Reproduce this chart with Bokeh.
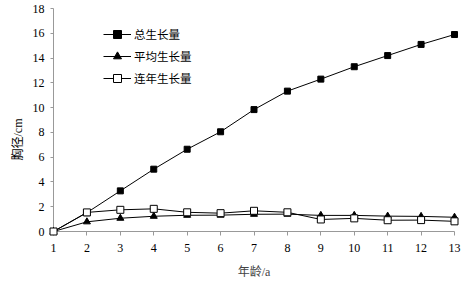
from bokeh.plotting import figure
from bokeh.models import Legend, LegendItem, FixedTicker, Range1d, Title
from bokeh.embed import file_html
from bokeh.resources import INLINE

ages = [1, 2, 3, 4, 5, 6, 7, 8, 9, 10, 11, 12, 13]
total_growth = [0, 1.52, 3.28, 5.03, 6.64, 8.05, 9.84, 11.33, 12.3, 13.3, 14.2, 15.1, 15.9]
mean_growth = [0, 0.78, 1.07, 1.23, 1.31, 1.32, 1.39, 1.40, 1.30, 1.30, 1.24, 1.22, 1.15]
annual_growth = [0, 1.54, 1.75, 1.83, 1.55, 1.48, 1.67, 1.55, 0.97, 1.06, 0.91, 0.92, 0.82]
y_ticks = [0, 2, 4, 6, 8, 10, 12, 14, 16, 18]
legend_labels = ["总生长量", "平均生长量", "连年生长量"]
x_title = "年龄/a"
y_title = "胸径/cm"

SERIF = "'Liberation Serif', 'Noto Sans CJK SC'"
CJK = "'Noto Sans CJK SC'"

p = figure(width=464, height=281, output_backend="svg", toolbar_location=None,
           x_range=Range1d(1, 13), y_range=Range1d(0, 18),
           min_border_left=53, min_border_right=10, min_border_top=8, min_border_bottom=50)
p.outline_line_color = None
p.xgrid.visible = False
p.ygrid.visible = False
p.background_fill_color = "white"
p.border_fill_color = "white"

for ax in (p.xaxis[0], p.yaxis[0]):
    ax.axis_line_color = "#999999"
    ax.major_tick_line_color = "#999999"
    ax.minor_tick_line_color = None
    ax.major_tick_in = 0
    ax.major_label_text_font = SERIF
    ax.major_label_text_font_size = "12px"
    ax.major_label_text_color = "black"

p.xaxis.ticker = FixedTicker(ticks=ages)
p.yaxis.ticker = FixedTicker(ticks=y_ticks)
p.xaxis.major_tick_out = 4
p.yaxis.major_tick_out = 3
p.xaxis.major_label_standoff = 8
p.yaxis.major_label_standoff = 6

p.xaxis.axis_label = x_title
p.xaxis.axis_label_text_font = SERIF
p.xaxis.axis_label_text_font_size = "12px"
p.xaxis.axis_label_text_font_style = "normal"
p.xaxis.axis_label_standoff = 10

ytitle = Title(text=y_title, align="left", offset=71, standoff=10,
               text_font=SERIF, text_font_size="12px", text_font_style="normal",
               text_color="black")
p.add_layout(ytitle, "left")

l1 = p.line(ages, total_growth, line_color="black", line_width=1, level="overlay")
s1 = p.scatter(ages, total_growth, marker="square", size=6, fill_color="black", line_color="black", level="overlay")
l2 = p.line(ages, mean_growth, line_color="black", line_width=1, level="overlay")
s2 = p.scatter(ages, mean_growth, marker="triangle", size=7, fill_color="black", line_color="black", level="overlay")
l3 = p.line(ages, annual_growth, line_color="black", line_width=1, level="overlay")
s3 = p.scatter(ages, annual_growth, marker="square", size=7, fill_color="white", line_color="black", level="overlay")

legend = Legend(items=[
    LegendItem(label=legend_labels[0], renderers=[l1, s1]),
    LegendItem(label=legend_labels[1], renderers=[l2, s2]),
    LegendItem(label=legend_labels[2], renderers=[l3, s3]),
], location=(50, 143))
legend.border_line_color = None
legend.background_fill_alpha = 0
legend.padding = 0
legend.margin = 0
legend.spacing = 2
legend.glyph_width = 28
legend.glyph_height = 20
legend.label_standoff = 3
legend.label_text_font = CJK
legend.label_text_font_size = "11.5px"
legend.label_text_color = "black"
p.add_layout(legend, "center")

open("out.html", "w").write(file_html(p, INLINE))
